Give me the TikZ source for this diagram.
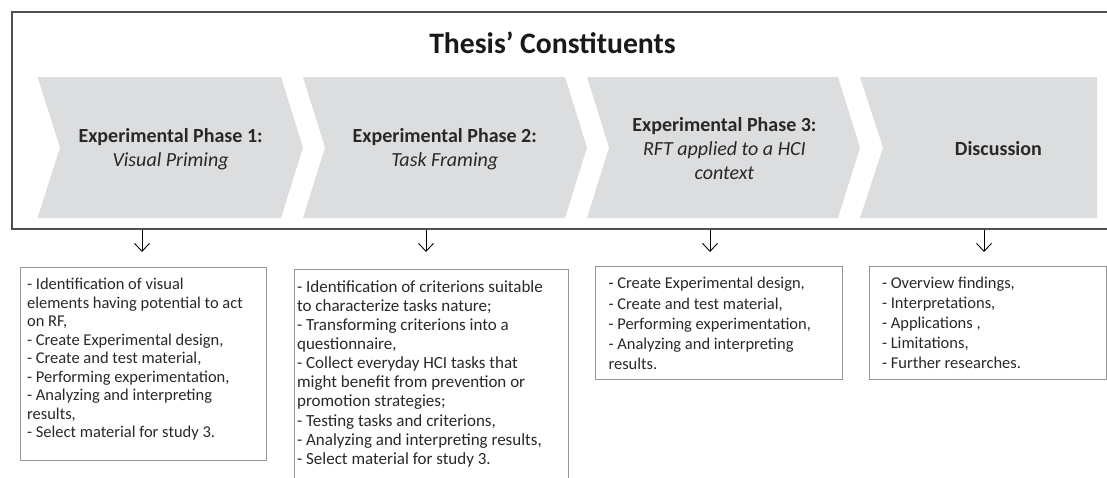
\documentclass[tikz,border=0pt]{standalone}
\usepackage{fontspec}
\setmainfont{Carlito}
\usetikzlibrary{arrows.meta,positioning}
\definecolor{phasegray}{RGB}{220,221,223}
\definecolor{framegray}{RGB}{80,80,80}
\definecolor{boxgray}{RGB}{150,150,150}
\definecolor{inkgray}{RGB}{40,40,40}
\newcommand{\drawChevron}[4]{\fill[phasegray] (#1,77) -- (#3,77) -- (#4,147.5) -- (#3,218) -- (#1,218) -- (#2,147.5) -- cycle;}
\newcommand{\taskLines}[3]{\parbox[t][#2][t]{#1}{\raggedright #3}}
\tikzset{>={Straight Barb[length=8pt,width=15pt]},
    x=1pt, y=-1pt,
    frame/.style={draw=framegray,line width=1.5pt,minimum width=1110pt,minimum height=217pt,anchor=north west,inner sep=0pt},
    title/.style={font=\fontsize{29.7}{34}\selectfont\bfseries,text=black!90,anchor=base},
    phase/.style={align=center,font=\fontsize{20}{24}\selectfont,text=inkgray},
    task/.style={draw=boxgray,line width=1pt,anchor=north west,inner ysep=11pt,font=\fontsize{16.5}{18.5}\selectfont,text=inkgray},
    link/.style={->,line width=0.9pt}}
\begin{document}
\begin{tikzpicture}
\clip (0,0) rectangle (1107,477);

\drawChevron{37.5}{60}{281}{303}
\drawChevron{303}{325}{565}{587}
\drawChevron{587}{609}{838}{860}
\drawChevron{860}{883}{1097}{1097}

\node[frame]  (frame) at (11,11)      {};
\node[title]  (head)  at (552.5,53)   {Thesis' Constituents};

\node[phase]  (p1)    at (170.6,149)  {\textbf{Experimental Phase 1:}\\\textit{Visual Priming}};
\node[phase]  (p2)    at (444.8,149)  {\textbf{Experimental Phase 2:}\\\textit{Task Framing}};
\node[phase]  (p3)    at (724.4,149)  {\textbf{Experimental Phase 3:}\\\textit{RFT applied to a HCI}\\\textit{context}};
\node[phase]  (p4)    at (998.4,149)  {\textbf{Discussion}};

\node[task, inner xsep=7pt]  (t1) at (19.6,267)
    {\taskLines{232pt}{171pt}{- Identification of visual\\elements having potential to act\\on RF,\\- Create Experimental design,\\- Create and test material,\\- Performing experimentation,\\- Analyzing and interpreting\\results,\\- Select material for study 3.}};
\node[task, inner xsep=3pt, font=\fontsize{17}{19.1}\selectfont]  (t2) at (293.6,269)
    {\taskLines{268pt}{210pt}{- Identification of criterions suitable\\to characterize tasks nature;\\- Transforming criterions into a\\questionnaire,\\- Collect everyday HCI tasks that\\might benefit from prevention or\\promotion strategies;\\- Testing tasks and criterions,\\- Analyzing and interpreting results,\\- Select material for study 3.}};
\node[task, inner xsep=13pt, font=\fontsize{16.5}{20.2}\selectfont]  (t3) at (595,266)
    {\taskLines{221pt}{91pt}{- Create Experimental design,\\- Create and test material,\\- Performing experimentation,\\- Analyzing and interpreting\\results.}};
\node[task, inner xsep=12.5pt, font=\fontsize{16.5}{20}\selectfont]  (t4) at (869,266)
    {\taskLines{212pt}{91pt}{- Overview findings,\\- Interpretations,\\- Applications ,\\- Limitations,\\- Further researches.}};

\coordinate (e1) at (142,252);
\coordinate (e2) at (426,252);
\coordinate (e3) at (710,252);
\coordinate (e4) at (984,252);

\draw[link] (frame.south -| e1) -- (e1);
\draw[link] (frame.south -| e2) -- (e2);
\draw[link] (frame.south -| e3) -- (e3);
\draw[link] (frame.south -| e4) -- (e4);
\end{tikzpicture}
\end{document}
